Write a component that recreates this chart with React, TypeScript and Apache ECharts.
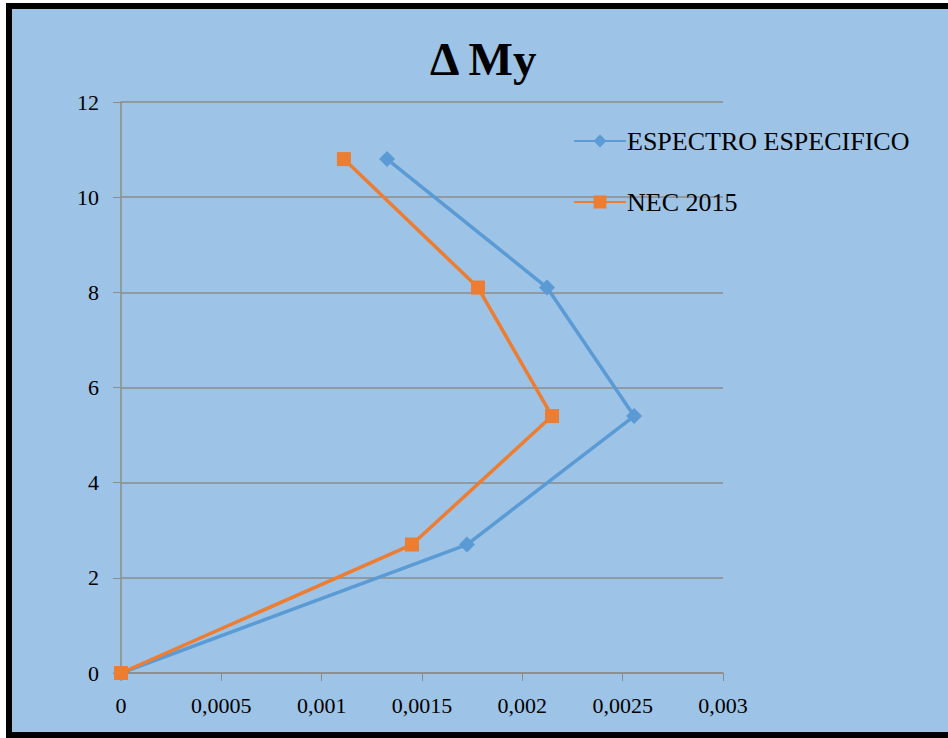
import React, { useEffect, useRef } from "react";
import * as echarts from "echarts";

const heights = [0, 2.7, 5.4, 8.1, 10.8];
const espectroValues = [0, 0.001724, 0.002557, 0.002123, 0.001326];
const necValues = [0, 0.00145, 0.002148, 0.001779, 0.001111];
const seriesNames = ["ESPECTRO ESPECIFICO", "NEC 2015"];
const titleText = "\u0394 My";

const FONT = "'Liberation Serif', 'Times New Roman', serif";

export default function App() {
  const ref = useRef<HTMLDivElement>(null);
  useEffect(() => {
    document.body.style.margin = "0";
    const chart = echarts.init(ref.current!, null, { renderer: "svg" });
    const fmt = (v: number) => String(Number(v.toFixed(6))).replace(".", ",");
    chart.setOption({
      animation: false,
      backgroundColor: "#ffffff",
      graphic: [
        {
          type: "rect",
          z: -10,
          shape: { x: 9, y: 6, width: 960, height: 729 },
          style: { fill: "#9dc3e6", stroke: "#000000", lineWidth: 6 },
        },
      ],
      title: {
        text: titleText,
        left: 425,
        top: 30,
        textStyle: { fontFamily: FONT, fontSize: 47, fontWeight: "bold", color: "#000" },
      },
      legend: {
        orient: "vertical",
        left: 568,
        top: 123,
        itemGap: 35,
        itemWidth: 52,
        itemHeight: 16,
        textStyle: { fontFamily: FONT, fontSize: 26, color: "#000", padding: [0, 0, 0, -4] },
        data: seriesNames,
      },
      grid: { left: 121, top: 102, right: 225, bottom: 65 },
      xAxis: {
        type: "value",
        min: 0,
        max: 0.003,
        interval: 0.0005,
        splitLine: { show: false },
        axisLine: { show: true, lineStyle: { color: "#8c8c8c", width: 1.5 } },
        axisTick: { show: true, length: 8, lineStyle: { color: "#8c8c8c" } },
        axisLabel: { fontFamily: FONT, fontSize: 22, color: "#000", margin: 21, formatter: fmt },
      },
      yAxis: {
        type: "value",
        min: 0,
        max: 12,
        interval: 2,
        splitLine: { show: true, lineStyle: { color: "#8c8c8c", width: 1.5 } },
        axisLine: { show: true, lineStyle: { color: "#8c8c8c", width: 1.5 } },
        axisTick: { show: true, length: 8, lineStyle: { color: "#8c8c8c" } },
        axisLabel: { fontFamily: FONT, fontSize: 22, color: "#000", margin: 22 },
      },
      series: [
        {
          name: seriesNames[0],
          type: "line",
          data: espectroValues.map((v, i) => [v, heights[i]]),
          symbol: "diamond",
          symbolSize: 16,
          lineStyle: { color: "#5b9bd5", width: 3.5 },
          itemStyle: { color: "#5b9bd5" },
        },
        {
          name: seriesNames[1],
          type: "line",
          data: necValues.map((v, i) => [v, heights[i]]),
          symbol: "rect",
          symbolSize: 14,
          lineStyle: { color: "#ed7d31", width: 3.5 },
          itemStyle: { color: "#ed7d31" },
        },
      ],
    });
    return () => chart.dispose();
  }, []);
  return <div ref={ref} style={{ position: "fixed", left: 0, top: 0, width: 948, height: 738 }} />;
}
